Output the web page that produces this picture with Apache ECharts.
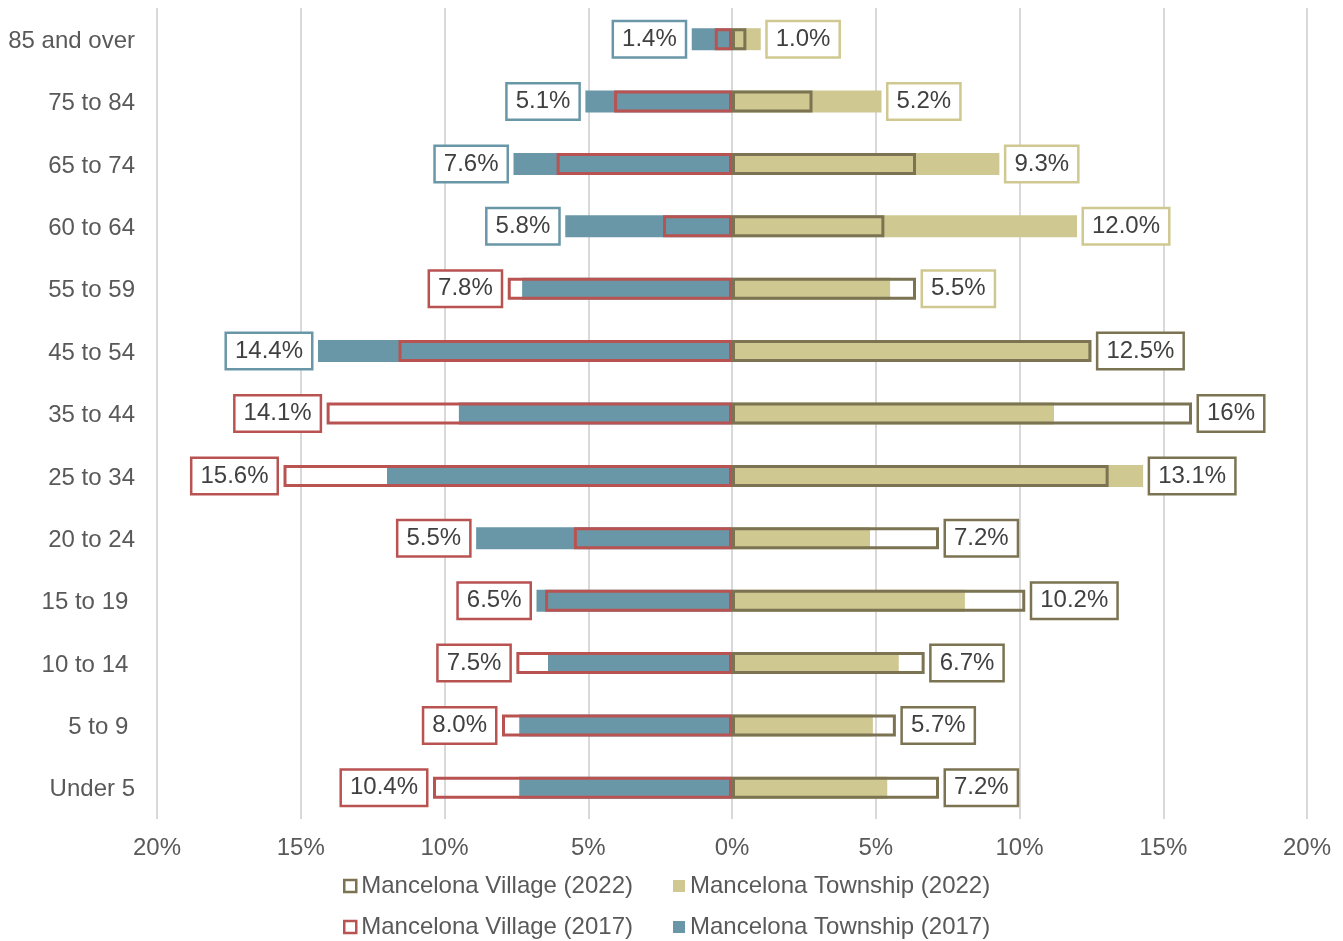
<!DOCTYPE html>
<html>
<head>
<meta charset="utf-8">
<script src="https://cdn.jsdelivr.net/npm/echarts@6/dist/echarts.min.js"></script>
<style>
  html, body { margin: 0; padding: 0; background: #ffffff; }
  #chart { width: 1343px; height: 941px; }
</style>
</head>
<body>
<div id="chart"></div>
<script>
// age groups, top to bottom (trailing spaces are in the original labels)
var ageGroups = ['85 and over', '75 to 84', '65 to 74', '60 to 64', '55 to 59', '45 to 54', '35 to 44',
  '25 to 34', '20 to 24', '15 to 19 ', '10 to 14 ', '5 to 9 ', 'Under 5'];

// share of population (%)
var township2017 = [1.4, 5.1, 7.6, 5.8, 7.3, 14.4, 9.5, 12.0, 8.9, 6.8, 6.4, 7.4, 7.4];
var village2017 = [0.6, 4.1, 6.1, 2.4, 7.8, 11.6, 14.1, 15.6, 5.5, 6.5, 7.5, 8.0, 10.4];
var township2022 = [1.0, 5.2, 9.3, 12.0, 5.5, 12.5, 11.2, 14.3, 4.8, 8.1, 5.8, 4.9, 5.4];
var village2022 = [0.5, 2.8, 6.4, 5.3, 6.4, 12.5, 16.0, 13.1, 7.2, 10.2, 6.7, 5.7, 7.2];

// the one data label shown on each side, and which series it belongs to
var leftLabelText = ['1.4%', '5.1%', '7.6%', '5.8%', '7.8%', '14.4%', '14.1%', '15.6%', '5.5%', '6.5%', '7.5%', '8.0%', '10.4%'];
var leftLabelFrom = ['twp', 'twp', 'twp', 'twp', 'vil', 'twp', 'vil', 'vil', 'vil', 'vil', 'vil', 'vil', 'vil'];
var rightLabelText = ['1.0%', '5.2%', '9.3%', '12.0%', '5.5%', '12.5%', '16%', '13.1%', '7.2%', '10.2%', '6.7%', '5.7%', '7.2%'];
var rightLabelFrom = ['twp', 'twp', 'twp', 'twp', 'twp', 'vil', 'vil', 'vil', 'vil', 'vil', 'vil', 'vil', 'vil'];

var xTicks = [-20, -15, -10, -5, 0, 5, 10, 15, 20];

var cTeal = '#6a97a7';
var cRed = '#b95352';
var cTan = '#cfc891';
var cOlive = '#7b7352';
var fontFam = '"Liberation Sans", Arial, sans-serif';

var chart = echarts.init(document.getElementById('chart'));

// transparent bars that only carry the label, placed at the longer of the two bars
var leftLabelData = [];
var rightLabelData = [];
for (var i = 0; i < ageGroups.length; i++) {
  leftLabelData.push({
    value: -Math.max(township2017[i], village2017[i]),
    label: { borderColor: leftLabelFrom[i] == 'twp' ? cTeal : cRed }
  });
  rightLabelData.push({
    value: Math.max(township2022[i], village2022[i]),
    label: { borderColor: rightLabelFrom[i] == 'twp' ? cTan : cOlive }
  });
}

function labelBox(pos, texts) {
  return {
    show: true,
    position: pos,
    distance: 7,
    color: '#404040',
    fontSize: 24,
    fontFamily: fontFam,
    lineHeight: 24,
    padding: [7, 8, 3, 8],
    borderWidth: 2.5,
    backgroundColor: '#ffffff',
    formatter: function (p) { return texts[p.dataIndex]; }
  };
}

var legendText = { color: '#595959', fontSize: 24, fontFamily: fontFam };

var option = {
  animation: false,
  textStyle: { fontFamily: fontFam },
  grid: {
    left: 157,
    right: 36,
    top: 8,
    bottom: 122
  },
  xAxis: {
    type: 'value',
    min: xTicks[0],
    max: xTicks[xTicks.length - 1],
    interval: 5,
    axisLine: { show: false },
    axisTick: { show: false },
    splitLine: { show: true, lineStyle: { color: '#d9d9d9', width: 2 } },
    axisLabel: {
      color: '#595959',
      fontSize: 24,
      fontFamily: fontFam,
      margin: 17,
      formatter: function (v) { return Math.abs(v) + '%'; }
    }
  },
  yAxis: {
    type: 'category',
    inverse: true,
    data: ageGroups,
    axisLine: { show: false, onZero: false },
    axisTick: { show: false },
    axisLabel: {
      margin: 22,
      formatter: function (v) { return '{a|' + v + '}'; },
      rich: {
        a: { color: '#595959', fontSize: 24, fontFamily: fontFam, padding: [4, 0, 0, 0] }
      }
    }
  },
  legend: [
    {
      left: 343,
      top: 874,
      padding: 0,
      itemWidth: 12,
      itemHeight: 12,
      itemGap: 40,
      textStyle: legendText,
      data: [
        { name: 'Mancelona Village (2022)', icon: 'rect', itemStyle: { color: '#ffffff', borderColor: cOlive, borderWidth: 2.5 } },
        { name: 'Mancelona Township (2022)', icon: 'rect' }
      ]
    },
    {
      left: 343,
      top: 915,
      padding: 0,
      itemWidth: 12,
      itemHeight: 12,
      itemGap: 40,
      textStyle: legendText,
      data: [
        { name: 'Mancelona Village (2017)', icon: 'rect', itemStyle: { color: '#ffffff', borderColor: cRed, borderWidth: 2.5 } },
        { name: 'Mancelona Township (2017)', icon: 'rect' }
      ]
    }
  ],
  series: [
    {
      name: 'Mancelona Township (2017)',
      type: 'bar',
      barWidth: 22,
      barGap: '-100%',
      itemStyle: { color: cTeal },
      data: township2017.map(function (v) { return -v; })
    },
    {
      name: 'Mancelona Village (2017)',
      type: 'bar',
      barWidth: 22,
      barGap: '-100%',
      itemStyle: { color: 'transparent', borderColor: cRed, borderWidth: 3 },
      data: village2017.map(function (v) { return -v; })
    },
    {
      name: 'Mancelona Township (2022)',
      type: 'bar',
      barWidth: 22,
      barGap: '-100%',
      itemStyle: { color: cTan },
      data: township2022
    },
    {
      name: 'Mancelona Village (2022)',
      type: 'bar',
      barWidth: 22,
      barGap: '-100%',
      itemStyle: { color: 'transparent', borderColor: cOlive, borderWidth: 3 },
      data: village2022
    },
    {
      name: 'labelsLeft',
      type: 'bar',
      barWidth: 22,
      barGap: '-100%',
      silent: true,
      itemStyle: { color: 'transparent' },
      label: labelBox('left', leftLabelText),
      data: leftLabelData
    },
    {
      name: 'labelsRight',
      type: 'bar',
      barWidth: 22,
      barGap: '-100%',
      silent: true,
      itemStyle: { color: 'transparent' },
      label: labelBox('right', rightLabelText),
      data: rightLabelData
    }
  ]
};

chart.setOption(option);
window.addEventListener('resize', function () { chart.resize(); });
</script>
</body>
</html>
